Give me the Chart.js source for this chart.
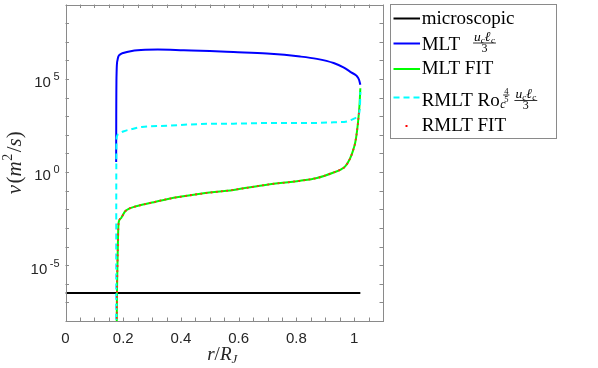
<!DOCTYPE html>
<html>
<head>
<meta charset="utf-8">
<script src="https://cdn.jsdelivr.net/npm/chart.js@4"></script>
<style>
  html, body { margin: 0; padding: 0; background: #fff; }
  #wrap { width: 598px; height: 368px; }
</style>
</head>
<body>
<div id="wrap"><canvas id="chart"></canvas></div>
<script>
// Values (r / R_J and nu in m^2/s)
const microR = [0, 1.0215];
const microNu = [3.2e-7, 3.2e-7];

const mltR = [0.1755, 0.1758, 0.177, 0.18, 0.183, 0.19, 0.2, 0.23, 0.276, 0.32, 0.41, 0.5, 0.582, 0.698, 0.813, 0.871, 0.929, 0.963, 0.991, 1.008, 1.017, 1.0215];
const mltNu = [3.5, 1e3, 2.1e5, 1e6, 1.6e6, 2.1e6, 2.5e6, 3.2e6, 3.7e6, 3.8e6, 3.5e6, 3.2e6, 2.8e6, 2.3e6, 1.6e6, 1.2e6, 7.2e5, 4.2e5, 2.2e5, 1.5e5, 9.1e4, 4.9e4];

const mltFitR = [0.1772, 0.178, 0.18, 0.182, 0.1835, 0.186, 0.193, 0.206, 0.224, 0.241, 0.3, 0.351, 0.467, 0.582, 0.698, 0.813, 0.871, 0.929, 0.955, 0.969, 0.985, 0.995, 1.004, 1.01, 1.015, 1.019, 1.0215];
const mltFitNu = [1e-9, 1e-7, 1e-5, 3.2e-4, 1.5e-3, 2.5e-3, 3.4e-3, 7.6e-3, 0.0115, 0.014, 0.023, 0.035, 0.068, 0.11, 0.21, 0.34, 0.48, 0.95, 1.4, 2.0, 5.0, 12.6, 40, 160, 800, 5000, 3.2e4];

const rmltR = [0.1755, 0.176, 0.1765, 0.178, 0.185, 0.2, 0.23, 0.264, 0.351, 0.467, 0.582, 0.698, 0.813, 0.929, 0.975, 1.004, 1.016, 1.0205, 1.0215];
const rmltNu = [1e-9, 1, 32, 81, 112, 151, 204, 263, 309, 380, 398, 427, 427, 468, 525, 794, 1200, 5000, 2e4];

const rmltFitR = [0.1772, 0.178, 0.18, 0.182, 0.1835, 0.186, 0.193, 0.206, 0.224, 0.241, 0.3, 0.351, 0.467, 0.582, 0.698, 0.813, 0.871, 0.929, 0.955, 0.969, 0.985, 0.995, 1.004, 1.01, 1.015, 1.018];
const rmltFitNu = [1e-9, 1e-7, 1e-5, 3.2e-4, 1.5e-3, 2.5e-3, 3.4e-3, 7.6e-3, 0.0115, 0.014, 0.023, 0.035, 0.068, 0.11, 0.21, 0.34, 0.48, 0.95, 1.4, 2.0, 5.0, 12.6, 40, 160, 800, 2500];

const xTickLabels = [0, 0.2, 0.4, 0.6, 0.8, 1];
const yTickExponents = [5, 0, -5];

const AXIS_GRAY = '#8a8a8a';
const TEXT_DARK = '#262626';
const SERIF = 'Liberation Serif';

function toPoints(xs, ys) {
    return xs.map((x, i) => ({ x: x, y: ys[i] }));
}

// Draw a row of text pieces with their own font and vertical shift
function runsWidth(ctx, runs) {
    let w = 0;
    runs.forEach(r => {
        ctx.font = r.font;
        w += ctx.measureText(r.text).width + (r.gap || 0);
    });
    return w;
}

function drawRuns(ctx, x, y, runs) {
    let cx = x;
    runs.forEach(r => {
        ctx.font = r.font;
        ctx.fillText(r.text, cx, y + (r.dy || 0));
        cx += ctx.measureText(r.text).width + (r.gap || 0);
    });
    return cx - x;
}

function drawFraction(ctx, x, barY, numRuns, denRuns, numDrop, denDrop) {
    const nw = runsWidth(ctx, numRuns);
    const dw = runsWidth(ctx, denRuns);
    const w = Math.max(nw, dw) + 2;
    drawRuns(ctx, x + (w - nw) / 2, barY - numDrop, numRuns);
    drawRuns(ctx, x + (w - dw) / 2, barY + denDrop, denRuns);
    ctx.fillRect(x, barY - 0.4, w, 0.8);
    return w;
}

function ucLc(size, subSize, drop) {
    return [
        { text: 'u', font: 'italic ' + size + 'px ' + SERIF },
        { text: 'c', font: 'italic ' + subSize + 'px ' + SERIF, dy: drop },
        { text: 'ℓ', font: 'italic ' + size + 'px ' + SERIF, gap: 0.5 },
        { text: 'c', font: 'italic ' + subSize + 'px ' + SERIF, dy: drop }
    ];
}

const framePlugin = {
    id: 'frame',
    afterDatasetsDraw(chart) {
        const ctx = chart.ctx;
        const area = chart.chartArea;
        const xs = chart.scales.x;
        const ys = chart.scales.y;
        ctx.save();
        ctx.strokeStyle = AXIS_GRAY;
        ctx.lineWidth = 1;
        ctx.strokeRect(Math.round(area.left) + 0.5, Math.round(area.top) + 0.5,
            Math.round(area.right - area.left) - 1, Math.round(area.bottom - area.top) - 1);

        // inward ticks on all four sides
        ctx.beginPath();
        for (let i = 0; i <= 22; i++) {
            const px = Math.round(xs.getPixelForValue(i * 0.05)) + 0.5;
            ctx.moveTo(px, area.bottom);
            ctx.lineTo(px, area.bottom - 3.5);
            ctx.moveTo(px, area.top);
            ctx.lineTo(px, area.top + 3.5);
        }
        for (let e = -8; e <= 9; e++) {
            const py = Math.round(ys.getPixelForValue(Math.pow(10, e))) + 0.5;
            ctx.moveTo(area.left, py);
            ctx.lineTo(area.left + 3.5, py);
            ctx.moveTo(area.right, py);
            ctx.lineTo(area.right - 3.5, py);
        }
        ctx.stroke();

        // y tick labels 10^n
        ctx.fillStyle = TEXT_DARK;
        ctx.textBaseline = 'alphabetic';
        ctx.textAlign = 'left';
        yTickExponents.forEach(n => {
            const py = ys.getPixelForValue(Math.pow(10, n));
            const base = [{ text: '10', font: '15px Liberation Sans', gap: 2.5 }];
            const sup = [{ text: n < 0 ? '-' + Math.abs(n) : String(n), font: '11px Liberation Sans' }];
            const w = runsWidth(ctx, base) + runsWidth(ctx, sup);
            const x0 = 59.5 - w;
            const w1 = drawRuns(ctx, x0, py + 8.4, base);
            drawRuns(ctx, x0 + w1, py + 1.4, sup);
        });

        // axis titles
        const it = 'italic 19px ' + SERIF;
        const up = '19px ' + SERIF;
        const xTitle = [
            { text: 'r', font: it },
            { text: '/', font: up },
            { text: 'R', font: it },
            { text: 'J', font: 'italic 13px ' + SERIF, dy: 3 }
        ];
        const xw = runsWidth(ctx, xTitle);
        drawRuns(ctx, (area.left + area.right) / 2 - xw / 2 - 2, 360, xTitle);

        const yt = 'italic 21px ' + SERIF;
        const yu = '21px ' + SERIF;
        const yTitle = [
            { text: 'ν', font: yt, gap: 1.5 },
            { text: '(', font: yu },
            { text: 'm', font: yt, gap: 0.5 },
            { text: '2', font: '14px ' + SERIF, dy: -9, gap: 1.5 },
            { text: '/', font: yu },
            { text: 's', font: yt },
            { text: ')', font: yu }
        ];
        const yw = runsWidth(ctx, yTitle);
        ctx.save();
        ctx.translate(21, (area.top + area.bottom) / 2);
        ctx.rotate(-Math.PI / 2);
        drawRuns(ctx, -yw / 2, 0, yTitle);
        ctx.restore();
        ctx.restore();
    }
};

const legendPlugin = {
    id: 'mathLegend',
    afterDraw(chart) {
        const ctx = chart.ctx;
        const txt = '19px ' + SERIF;
        const lx0 = 393.5, lx1 = 420, tx = 421.7;
        ctx.save();
        ctx.fillStyle = '#fff';
        ctx.fillRect(390, 4.5, 167, 134);
        ctx.strokeStyle = AXIS_GRAY;
        ctx.lineWidth = 1;
        ctx.strokeRect(390.5, 4.5, 166, 134);

        function sample(y, color, dash) {
            ctx.beginPath();
            ctx.strokeStyle = color;
            ctx.lineWidth = 2;
            ctx.setLineDash(dash || []);
            ctx.moveTo(lx0, y);
            ctx.lineTo(lx1, y);
            ctx.stroke();
            ctx.setLineDash([]);
        }

        sample(18.5, '#000000');
        sample(43.5, '#0000ff');
        sample(69, '#00ff00');
        sample(97.5, '#00ffff', [6, 4]);
        ctx.fillStyle = '#ff0000';
        ctx.fillRect(405.5, 125, 2, 2);

        ctx.fillStyle = '#000';
        ctx.textBaseline = 'alphabetic';
        ctx.textAlign = 'left';
        drawRuns(ctx, tx, 24, [{ text: 'microscopic', font: txt }]);

        let w = drawRuns(ctx, tx, 50, [{ text: 'MLT', font: txt }]);
        drawFraction(ctx, tx + w + 13, 43, ucLc(13.5, 9, 2), [{ text: '3', font: '12px ' + SERIF }], 2.5, 8.5);

        drawRuns(ctx, tx, 74, [{ text: 'MLT FIT', font: txt }]);

        w = drawRuns(ctx, tx, 106, [{ text: 'RMLT Ro', font: txt }]);
        const sx = tx + w + 0.5;
        ctx.font = 'italic 12px ' + SERIF;
        ctx.fillText('c', sx, 108);
        const fw = drawFraction(ctx, sx + 3, 95,
            [{ text: '4', font: '8.5px ' + SERIF }], [{ text: '5', font: '8.5px ' + SERIF }], 1.5, 6.5);
        drawFraction(ctx, sx + 3 + fw + 5, 100.5, ucLc(13.5, 9, 2), [{ text: '3', font: '12px ' + SERIF }], 2.5, 8.5);

        drawRuns(ctx, tx, 131, [{ text: 'RMLT FIT', font: txt }]);
        ctx.restore();
    }
};

const baseLine = { pointRadius: 0, borderWidth: 2, fill: false, cubicInterpolationMode: 'monotone' };

new Chart(document.getElementById('chart'), {
    type: 'line',
    data: {
        datasets: [
            Object.assign({}, baseLine, { label: 'microscopic', data: toPoints(microR, microNu), borderColor: '#000000', order: 4 }),
            Object.assign({}, baseLine, { label: 'MLT', data: toPoints(mltR, mltNu), borderColor: '#0000ff', order: 3 }),
            Object.assign({}, baseLine, { label: 'MLT FIT', data: toPoints(mltFitR, mltFitNu), borderColor: '#00ff00', order: 2 }),
            Object.assign({}, baseLine, { label: 'RMLT', data: toPoints(rmltR, rmltNu), borderColor: '#00ffff', borderDash: [6, 4], order: 1 }),
            Object.assign({}, baseLine, { label: 'RMLT FIT', data: toPoints(rmltFitR, rmltFitNu), borderColor: '#ff2a1a', borderWidth: 1.8, borderDash: [1.8, 3.4], order: 0 })
        ]
    },
    options: {
        responsive: true,
        maintainAspectRatio: false,
        animation: false,
        devicePixelRatio: 1,
        layout: { padding: { top: 4.5, right: 215, bottom: 0, left: 0 } },
        plugins: { legend: { display: false }, tooltip: { enabled: false } },
        scales: {
            x: {
                type: 'linear',
                min: 0,
                max: 1.1,
                afterBuildTicks: s => { s.ticks = xTickLabels.map(v => ({ value: v })); },
                afterFit: s => { s.height = 47; },
                grid: { display: false, drawTicks: false },
                border: { display: false },
                ticks: {
                    autoSkip: false,
                    maxRotation: 0,
                    padding: 9,
                    color: TEXT_DARK,
                    font: { family: 'Liberation Sans', size: 15 },
                    callback: v => String(Math.round(v * 10) / 10)
                }
            },
            y: {
                type: 'logarithmic',
                min: 1e-8,
                max: 1e9,
                afterFit: s => { s.width = 65.5; },
                grid: { display: false },
                border: { display: false },
                ticks: { display: false }
            }
        }
    },
    plugins: [framePlugin, legendPlugin]
});
</script>
</body>
</html>
